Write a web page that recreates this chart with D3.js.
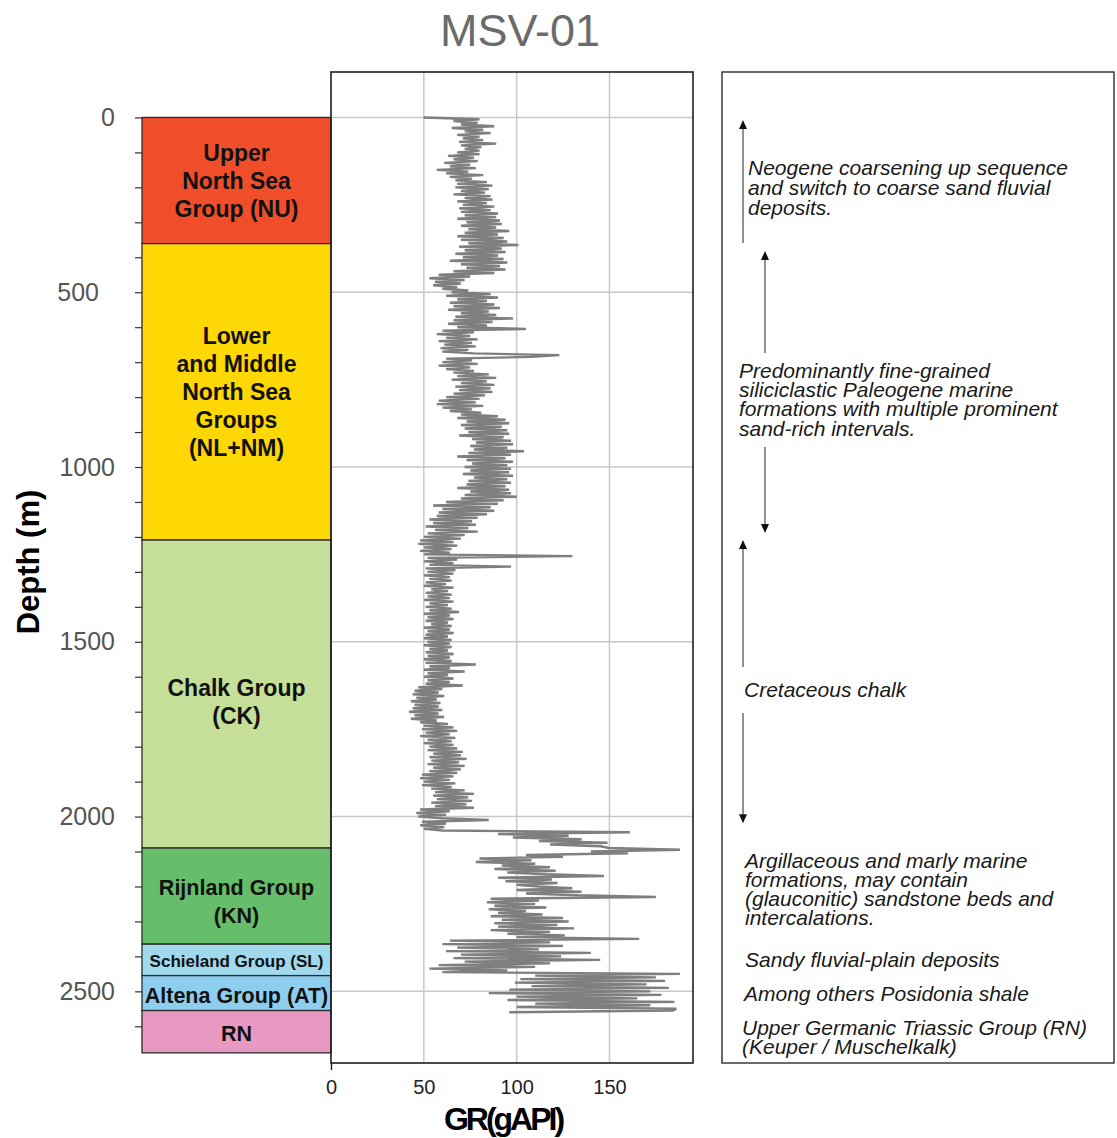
<!DOCTYPE html>
<html>
<head>
<meta charset="utf-8">
<script src="https://cdn.jsdelivr.net/npm/d3@7"></script>
<style>
  html, body { margin: 0; padding: 0; background: #fff; }
  svg { display: block; font-family: "Liberation Sans", Arial, sans-serif; }
</style>
</head>
<body>
<svg id="chart" width="1117" height="1138"></svg>
<script>
// ---- Well and log data ----
const wellName = "MSV-01";

// Gamma-ray log (gAPI), one sample every 5 m starting at 0 m depth
const depthStep = 5;
const grValues = [
  50, 80, 66, 79, 70, 88, 65, 82, 72, 86, 68, 80, 71, 82, 69, 89, 70, 81, 72, 80,
  68, 80, 63, 77, 66, 79, 61, 75, 64, 78, 57, 74, 62, 82, 64, 76, 67, 84, 68, 87,
  67, 85, 70, 83, 66, 86, 72, 87, 68, 84, 71, 88, 69, 86, 70, 90, 72, 89, 68, 91,
  73, 92, 70, 89, 74, 96, 72, 90, 68, 93, 70, 95, 74, 101, 69, 92, 72, 94, 67, 90,
  71, 93, 64, 95, 70, 91, 73, 94, 66, 88, 58, 75, 53, 72, 56, 70, 55, 68, 60, 74,
  65, 86, 62, 90, 68, 84, 64, 88, 66, 91, 63, 85, 70, 89, 67, 98, 66, 87, 63, 84,
  68, 105, 60, 77, 57, 75, 62, 79, 58, 76, 61, 78, 59, 74, 60, 77, 123, 108, 62, 76,
  60, 79, 58, 75, 62, 77, 66, 85, 68, 89, 65, 84, 70, 88, 67, 86, 69, 87, 66, 83,
  62, 80, 58, 78, 57, 82, 60, 76, 64, 81, 70, 90, 68, 94, 73, 96, 70, 92, 72, 95,
  74, 96, 69, 93, 76, 97, 78, 98, 75, 95, 77, 104, 74, 97, 68, 94, 73, 98, 76, 95,
  72, 97, 75, 96, 71, 98, 77, 95, 74, 97, 73, 94, 68, 96, 75, 97, 72, 100, 70, 93,
  62, 90, 55, 86, 60, 88, 58, 84, 57, 79, 53, 76, 55, 78, 51, 74, 56, 79, 52, 72,
  50, 70, 48, 66, 47, 68, 50, 65, 48, 64, 50, 130, 52, 68, 50, 66, 53, 97, 51, 67,
  52, 66, 50, 64, 53, 65, 51, 62, 50, 66, 54, 63, 51, 65, 52, 64, 50, 66, 53, 63,
  51, 65, 53, 69, 50, 64, 52, 66, 51, 63, 54, 65, 50, 64, 52, 66, 51, 63, 50, 65,
  52, 64, 50, 65, 53, 63, 51, 66, 52, 64, 50, 65, 51, 78, 53, 64, 50, 72, 52, 63,
  50, 66, 52, 64, 51, 71, 47, 60, 45, 58, 44, 61, 46, 57, 43, 59, 45, 58, 44, 60,
  42, 58, 45, 61, 43, 57, 48, 63, 50, 66, 49, 68, 51, 64, 48, 67, 52, 65, 50, 66,
  53, 68, 52, 71, 55, 70, 53, 73, 54, 69, 52, 72, 55, 70, 53, 68, 49, 66, 48, 64,
  50, 67, 49, 65, 54, 72, 56, 77, 55, 74, 57, 76, 54, 73, 56, 77, 48, 64, 46, 62,
  47, 60, 85, 49, 62, 48, 61, 50, 60, 161, 90, 128, 98, 135, 112, 149, 118, 145, 150, 188,
  140, 160, 105, 125, 80, 108, 78, 110, 92, 118, 88, 121, 95, 116, 147, 90, 119, 94, 122, 100,
  112, 130, 100, 135, 105, 133, 175, 86, 112, 84, 110, 88, 116, 85, 105, 90, 114, 86, 125, 92,
  128, 88, 122, 90, 131, 86, 118, 95, 126, 100, 166, 64, 118, 60, 125, 68, 112, 62, 140, 70,
  124, 66, 145, 72, 118, 58, 110, 53, 95, 60, 188, 110, 175, 102, 180, 99, 170, 108, 182, 96,
  172, 85, 178, 100, 165, 95, 185, 110, 172, 100, 186, 184, 96
];

// Lithostratigraphic groups (depths in m)
const formationCodes  = ["NU", "NLNM", "CK", "KN", "SL", "AT", "RN"];
const formationLabels = [
  ["Upper", "North Sea", "Group (NU)"],
  ["Lower", "and Middle", "North Sea", "Groups", "(NL+NM)"],
  ["Chalk Group", "(CK)"],
  ["Rijnland Group", "(KN)"],
  ["Schieland Group (SL)"],
  ["Altena Group (AT)"],
  ["RN"]
];
const formationTops  = [0, 361, 1209, 2090, 2365, 2455, 2555];
const formationBases = [361, 1209, 2090, 2365, 2455, 2555, 2676];

// Axis ticks
const depthTicks = [0, 500, 1000, 1500, 2000, 2500];
const depthMinorTicks = [0, 100, 200, 300, 400, 500, 600, 700, 800, 900, 1000, 1100, 1200,
  1300, 1400, 1500, 1600, 1700, 1800, 1900, 2000, 2100, 2200, 2300, 2400, 2500, 2600];
const grTicks = [0, 50, 100, 150];

// Interpretation notes (depth of the first text baseline, m)
const noteLines = [
  ["Neogene coarsening up sequence", "and switch to coarse sand fluvial", "deposits."],
  ["Predominantly fine-grained", "siliciclastic Paleogene marine", "formations with multiple prominent", "sand-rich intervals."],
  ["Cretaceous chalk"],
  ["Argillaceous and marly marine", "formations, may contain", "(glauconitic) sandstone beds and", "intercalations."],
  ["Sandy fluvial-plain deposits"],
  ["Among others Posidonia shale"],
  ["Upper Germanic Triassic Group (RN)", "(Keuper / Muschelkalk)"]
];
const noteDepths = [165, 745, 1658, 2147, 2430, 2528, 2625];

// Interval arrows: [tail depth, head depth]
const arrowSpans = [[359, 7], [674, 382], [943, 1189], [1572, 1209], [1704, 2019]];

// ---- Styles & layout ----
const formationFill = {
  NU: "#F04E2B", NLNM: "#FDD804", CK: "#C6DF98", KN: "#66BE6A",
  SL: "#A0D8EC", AT: "#8DCEEE", RN: "#E899C1"
};
const labelSize  = { NU: 23, NLNM: 23, CK: 23, KN: 21.5, SL: 17, AT: 21.5, RN: 21.5 };
const labelShift = { NU: 0, NLNM: 0, CK: 8, KN: 5, SL: 1, AT: 2, RN: 2 };
const depthLabelDx = { 500: -16 };
const noteX = [748, 739, 744, 745, 745, 744, 742];
const noteLineGap = [20, 19.3, 19, 19, 19, 19, 19];
const arrowX = [743, 765, 765, 743, 743];

const svg = d3.select("#chart");

const y = d3.scaleLinear().domain([-130, 2705]).range([72, 1063]);
const x = d3.scaleLinear().domain([0, 195]).range([331, 693]);
const colLeft = 142;

// Title
svg.append("text")
  .attr("x", 520).attr("y", 46)
  .attr("text-anchor", "middle")
  .attr("font-size", 45)
  .attr("fill", "#6b6b6b")
  .text(wellName);

// Formation column
const formations = formationCodes.map((code, i) => ({
  code, lines: formationLabels[i], top: formationTops[i], base: formationBases[i]
}));

const fcol = svg.append("g");
fcol.selectAll("rect")
  .data(formations)
  .join("rect")
  .attr("x", colLeft)
  .attr("y", d => y(d.top))
  .attr("width", x(0) - colLeft)
  .attr("height", d => y(d.base) - y(d.top))
  .attr("fill", d => formationFill[d.code])
  .attr("stroke", "#2b2b2b")
  .attr("stroke-width", 1.3);

formations.forEach(f => {
  const fs = labelSize[f.code];
  const lh = 28;
  const cy = (y(f.top) + y(f.base)) / 2 + labelShift[f.code];
  const n = f.lines.length;
  f.lines.forEach((t, j) => {
    fcol.append("text")
      .attr("x", (colLeft + x(0)) / 2)
      .attr("y", cy + (j - (n - 1) / 2) * lh + fs * 0.36)
      .attr("text-anchor", "middle")
      .attr("font-size", fs)
      .attr("font-weight", "bold")
      .attr("fill", "#111")
      .text(t);
  });
});

// Depth axis
const yAxis = svg.append("g")
  .attr("transform", `translate(${colLeft},0)`)
  .call(d3.axisLeft(y)
    .tickValues(depthMinorTicks)
    .tickSize(7)
    .tickPadding(20)
    .tickFormat(d => depthTicks.includes(d) ? d : ""));
yAxis.select(".domain").remove();
yAxis.selectAll(".tick line").attr("stroke", "#333").attr("stroke-width", 1.2);
yAxis.selectAll(".tick text")
  .attr("font-size", 25)
  .attr("font-family", "Liberation Sans, Arial, sans-serif")
  .attr("fill", "#555")
  .attr("dx", d => depthLabelDx[d] || 0);

svg.append("text")
  .attr("transform", "translate(39,562) rotate(-90)")
  .attr("text-anchor", "middle")
  .attr("font-size", 31)
  .attr("font-weight", "bold")
  .attr("fill", "#000")
  .text("Depth (m)");

// Grid
const grid = svg.append("g");
grid.selectAll("line.h")
  .data(depthTicks)
  .join("line")
  .attr("class", "h")
  .attr("x1", x(0)).attr("x2", x(195))
  .attr("y1", d => y(d)).attr("y2", d => y(d))
  .attr("stroke", "#c8c8c8").attr("stroke-width", 1.5);
grid.selectAll("line.v")
  .data(grTicks.slice(1))
  .join("line")
  .attr("class", "v")
  .attr("x1", d => x(d)).attr("x2", d => x(d))
  .attr("y1", y(-130)).attr("y2", y(2705))
  .attr("stroke", "#c8c8c8").attr("stroke-width", 1.5);

// GR curve
const logData = grValues.map((v, i) => ({ depth: i * depthStep, gr: v }));
svg.append("path")
  .datum(logData)
  .attr("fill", "none")
  .attr("stroke", "#7f7f7f")
  .attr("stroke-width", 2.4)
  .attr("stroke-linejoin", "bevel")
  .attr("d", d3.line().x(d => x(d.gr)).y(d => y(d.depth)));

// Track frame
svg.append("rect")
  .attr("x", x(0)).attr("y", y(-130))
  .attr("width", x(195) - x(0))
  .attr("height", y(2705) - y(-130))
  .attr("fill", "none")
  .attr("stroke", "#1f1f1f")
  .attr("stroke-width", 1.6);

// GR axis
const xAxis = svg.append("g")
  .attr("transform", `translate(0,${y(2705)})`)
  .call(d3.axisBottom(x).tickValues(grTicks).tickSize(7).tickPadding(10));
xAxis.select(".domain").remove();
xAxis.selectAll(".tick line")
  .attr("stroke", "#1f1f1f").attr("stroke-width", 1.4)
  .attr("display", d => d === 0 ? null : "none");
xAxis.selectAll(".tick text")
  .attr("font-size", 20)
  .attr("font-family", "Liberation Sans, Arial, sans-serif")
  .attr("fill", "#222");

svg.append("text")
  .attr("x", 503).attr("y", 1130)
  .attr("text-anchor", "middle")
  .attr("font-size", 32)
  .attr("font-weight", "bold")
  .attr("letter-spacing", -3)
  .attr("fill", "#000")
  .text("GR(gAPI)");

// Interpretation panel
const panel = svg.append("g");
panel.append("rect")
  .attr("x", 722).attr("y", y(-130))
  .attr("width", 392).attr("height", y(2705) - y(-130))
  .attr("fill", "none")
  .attr("stroke", "#2b2b2b")
  .attr("stroke-width", 1.4);

arrowSpans.forEach(([from, to], i) => {
  const ax = arrowX[i];
  const y0 = y(from), y1 = y(to);
  const dir = y1 < y0 ? -1 : 1;
  panel.append("line")
    .attr("x1", ax).attr("x2", ax)
    .attr("y1", y0).attr("y2", y1 - dir * 4)
    .attr("stroke", "#555").attr("stroke-width", 1.3);
  panel.append("path")
    .attr("d", `M${ax},${y1} L${ax - 4},${y1 - dir * 9} L${ax + 4},${y1 - dir * 9} Z`)
    .attr("fill", "#111");
});

noteLines.forEach((lines, i) => {
  const t = panel.append("text")
    .attr("font-size", 21)
    .attr("font-style", "italic")
    .attr("fill", "#1a1a1a");
  lines.forEach((line, j) => {
    t.append("tspan")
      .attr("x", noteX[i])
      .attr("y", y(noteDepths[i]) + j * noteLineGap[i])
      .text(line);
  });
});
</script>
</body>
</html>
